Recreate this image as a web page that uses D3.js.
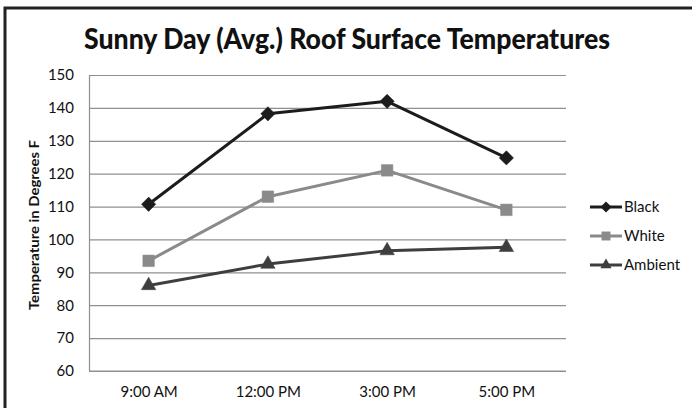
<!DOCTYPE html>
<html><head><meta charset="utf-8">
<script src="https://cdn.jsdelivr.net/npm/d3@7"></script>
<style>body{margin:0;background:#fff;} svg{display:block;font-family:Lato,"Open Sans",sans-serif;}</style>
</head><body>
<svg id="c" width="692" height="408"></svg>
<script>
const categories = ["9:00 AM","12:00 PM","3:00 PM","5:00 PM"];
const blackVals = [110.7, 138.2, 142, 124.8];
const whiteVals = [93.5, 113, 121, 109];
const ambientVals = [86, 92.5, 96.6, 97.6];
const yTicks = [60,70,80,90,100,110,120,130,140,150];
const seriesNames = ["Black","White","Ambient"];

(function(){
const series = [
  {name: seriesNames[0], values: blackVals, color: "#1c1c1c", symbol: d3.symbolDiamond2, size: 130},
  {name: seriesNames[1], values: whiteVals, color: "#8a8a8a", symbol: d3.symbolSquare2, size: 170},
  {name: seriesNames[2], values: ambientVals, color: "#3e3e3e", symbol: d3.symbolTriangle2, size: 150}
];

const svg = d3.select("#c");
svg.append("path").attr("d","M5,420 L5,8 L700,8").attr("fill","none").attr("stroke","#222").attr("stroke-width",3);

const pl = 89, pr = 566, pt = 75, pb = 371;
const x = d3.scalePoint().domain(categories).range([pl, pr]).padding(0.5);
const y = d3.scaleLinear().domain([60,150]).range([pb, pt]);

const yAxis = d3.axisLeft(y).tickValues(yTicks).tickSize(-(pr-pl)).tickPadding(15);
const gy = svg.append("g").attr("transform",`translate(${pl},0)`).call(yAxis);
gy.select(".domain").remove();
gy.selectAll(".tick line").attr("stroke","#8f8f8f").attr("stroke-width",1.2);
gy.selectAll(".tick text").attr("font-size",15).attr("fill","#111").attr("font-family","Lato, sans-serif");
svg.append("line").attr("x1",pl+0.5).attr("x2",pl+0.5).attr("y1",pt).attr("y2",pb).attr("stroke","#8f8f8f").attr("stroke-width",1.2);

const xAxis = d3.axisBottom(x).tickSize(0).tickPadding(15);
const gx = svg.append("g").attr("transform",`translate(0,${pb})`).call(xAxis);
gx.select(".domain").attr("stroke","#8f8f8f").attr("stroke-width",1.2).attr("d",`M${pl},0H${pr}`);
gx.selectAll(".tick text").attr("font-size",15).attr("fill","#111").attr("font-family","Lato, sans-serif");

const line = d3.line().x((d,i)=>x(categories[i])).y(d=>y(d));
series.forEach(s=>{
  svg.append("path").datum(s.values).attr("d",line).attr("fill","none").attr("stroke",s.color).attr("stroke-width",3).attr("stroke-linejoin","round");
  svg.selectAll(null).data(s.values).enter().append("path")
    .attr("d",d3.symbol().type(s.symbol).size(s.size))
    .attr("transform",(d,i)=>`translate(${x(categories[i])},${y(d)})`)
    .attr("fill",s.color).attr("stroke",s.color).attr("stroke-width",0.5);
});

const leg = svg.append("g");
series.forEach((s,i)=>{
  const ly = 207 + i*29;
  leg.append("line").attr("x1",590).attr("x2",622).attr("y1",ly).attr("y2",ly).attr("stroke",s.color).attr("stroke-width",3);
  leg.append("path").attr("d",d3.symbol().type(s.symbol).size(s.size*0.6)).attr("transform",`translate(606,${ly})`).attr("fill",s.color);
  leg.append("text").attr("x",624).attr("y",ly).attr("dy","0.36em").attr("font-size",15).attr("fill","#111").text(s.name);
});

const t = svg.append("text").attr("x",347).attr("y",49).attr("text-anchor","middle")
  .attr("font-weight","900").attr("font-size",29).attr("fill","#111").text("Sunny Day (Avg.) Roof Surface Temperatures");
t.attr("textLength",526).attr("lengthAdjust","spacingAndGlyphs");

const yl = svg.append("text").attr("transform","translate(39,225) rotate(-90)").attr("text-anchor","middle")
  .attr("font-weight","bold").attr("font-size",12.5).attr("fill","#111").text("Temperature in Degrees F");
yl.attr("textLength",170).attr("lengthAdjust","spacingAndGlyphs");
})();
</script>
</body></html>
